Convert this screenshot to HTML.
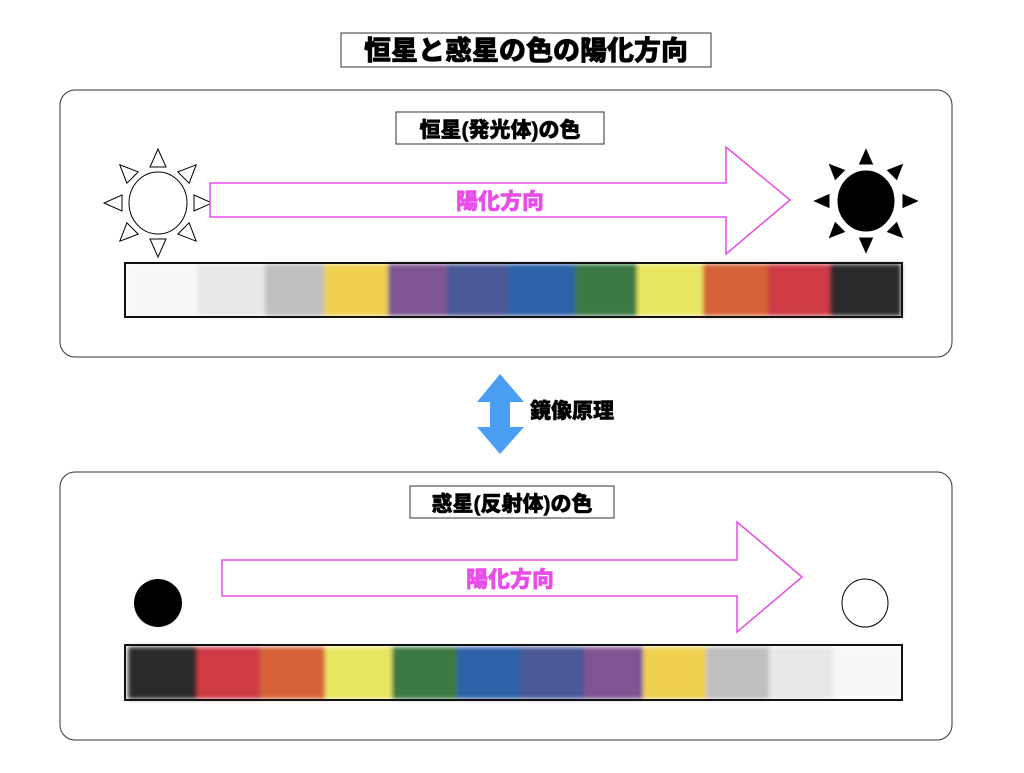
<!DOCTYPE html>
<html><head><meta charset="utf-8"><style>
body{margin:0;background:#fff;}
text{font-family:"Liberation Sans","Noto Sans CJK JP",sans-serif;font-weight:900;}
</style></head><body>
<svg width="1024" height="768" viewBox="0 0 1024 768" xmlns="http://www.w3.org/2000/svg">
<defs>
<filter id="b" x="-10%" y="-10%" width="120%" height="120%"><feGaussianBlur stdDeviation="2"/></filter>
<g id="ray"><polygon points="-8,-36 8,-36 0,-54"/></g>
</defs>
<rect x="341" y="33" width="370" height="34" fill="#fff" stroke="#333" stroke-width="1"/>
<text x="526" y="60" font-size="27" text-anchor="middle" fill="#000" stroke="#000" stroke-width="0.6">恒星と惑星の色の陽化方向</text>

<rect x="60" y="90" width="892" height="267" rx="15" fill="#fff" stroke="#333" stroke-width="1"/>
<rect x="396" y="112" width="208" height="32" fill="#fff" stroke="#333"/>
<text x="500" y="137" font-size="21" text-anchor="middle" stroke="#000" stroke-width="0.5">恒星(発光体)の色</text>

<g transform="translate(158,203)" fill="#fff" stroke="#000" stroke-width="1">
<ellipse rx="29" ry="31"/>
<use href="#ray"/><use href="#ray" transform="rotate(45)"/><use href="#ray" transform="rotate(90)"/><use href="#ray" transform="rotate(135)"/><use href="#ray" transform="rotate(180)"/><use href="#ray" transform="rotate(225)"/><use href="#ray" transform="rotate(270)"/><use href="#ray" transform="rotate(315)"/>
</g>
<g transform="translate(866,201)" fill="#000" stroke="#fff" stroke-width="1">
<ellipse rx="29" ry="31"/>
<use href="#ray"/><use href="#ray" transform="rotate(45)"/><use href="#ray" transform="rotate(90)"/><use href="#ray" transform="rotate(135)"/><use href="#ray" transform="rotate(180)"/><use href="#ray" transform="rotate(225)"/><use href="#ray" transform="rotate(270)"/><use href="#ray" transform="rotate(315)"/>
</g>

<polygon points="210,183 726,183 726,147 790,200 726,254 726,217 210,217" fill="#fff" stroke="#e94ce9" stroke-width="1.5"/>
<text x="500" y="209" font-size="22" fill="#e94ce9" text-anchor="middle" stroke="#e94ce9" stroke-width="0.5">陽化方向</text>

<rect x="125" y="263" width="777" height="54" fill="#fff"/>
<g filter="url(#b)">
<rect x="126" y="264" width="72" height="52" fill="#f8f8f8"/>
<rect x="197" y="264" width="69" height="52" fill="#e8e8e8"/>
<rect x="265" y="264" width="60" height="52" fill="#c0bfbf"/>
<rect x="324" y="264" width="65" height="52" fill="#efd050"/>
<rect x="388" y="264" width="60" height="52" fill="#7e5592"/>
<rect x="447" y="264" width="62" height="52" fill="#485896"/>
<rect x="508" y="264" width="68" height="52" fill="#2f62a8"/>
<rect x="575" y="264" width="63" height="52" fill="#3b7a45"/>
<rect x="637" y="264" width="67" height="52" fill="#e8e660"/>
<rect x="703" y="264" width="66" height="52" fill="#d66238"/>
<rect x="768" y="264" width="63" height="52" fill="#ce3a45"/>
<rect x="830" y="264" width="71" height="52" fill="#2c2c2c"/>
</g>
<rect x="125" y="263" width="777" height="54" fill="none" stroke="#111" stroke-width="2"/>

<polygon points="490,402 477,402 500,374 524,402 510,402 510,427 524,427 500,454 477,427 490,427" fill="#4a9ff5"/>
<text x="530" y="418" font-size="21" stroke="#000" stroke-width="0.5">鏡像原理</text>

<rect x="60" y="472" width="892" height="268" rx="15" fill="#fff" stroke="#333" stroke-width="1"/>
<rect x="410" y="486" width="204" height="32" fill="#fff" stroke="#333"/>
<text x="512" y="511" font-size="21" text-anchor="middle" stroke="#000" stroke-width="0.5">惑星(反射体)の色</text>

<ellipse cx="158" cy="603" rx="24" ry="24" fill="#000"/>
<ellipse cx="865" cy="603" rx="23" ry="24" fill="#fff" stroke="#000"/>

<polygon points="222,560 737,560 737,522 802,577 737,632 737,596 222,596" fill="#fff" stroke="#e94ce9" stroke-width="1.5"/>
<text x="510" y="587" font-size="22" fill="#e94ce9" text-anchor="middle" stroke="#e94ce9" stroke-width="0.5">陽化方向</text>

<rect x="125" y="645" width="777" height="55" fill="#fff"/>
<g filter="url(#b)">
<rect x="128" y="647" width="70" height="52" fill="#2c2c2c"/>
<rect x="197" y="647" width="64" height="52" fill="#ce3a45"/>
<rect x="260" y="647" width="66" height="52" fill="#d66238"/>
<rect x="325" y="647" width="68" height="52" fill="#e8e660"/>
<rect x="392" y="647" width="66" height="52" fill="#3b7a45"/>
<rect x="457" y="647" width="64" height="52" fill="#2f62a8"/>
<rect x="520" y="647" width="65" height="52" fill="#485896"/>
<rect x="584" y="647" width="60" height="52" fill="#7e5592"/>
<rect x="643" y="647" width="64" height="52" fill="#efd050"/>
<rect x="706" y="647" width="64" height="52" fill="#c0bfbf"/>
<rect x="769" y="647" width="65" height="52" fill="#e8e8e8"/>
<rect x="833" y="647" width="68" height="52" fill="#f8f8f8"/>
</g>
<rect x="125" y="645" width="777" height="55" fill="none" stroke="#111" stroke-width="2"/>
</svg>
</body></html>
